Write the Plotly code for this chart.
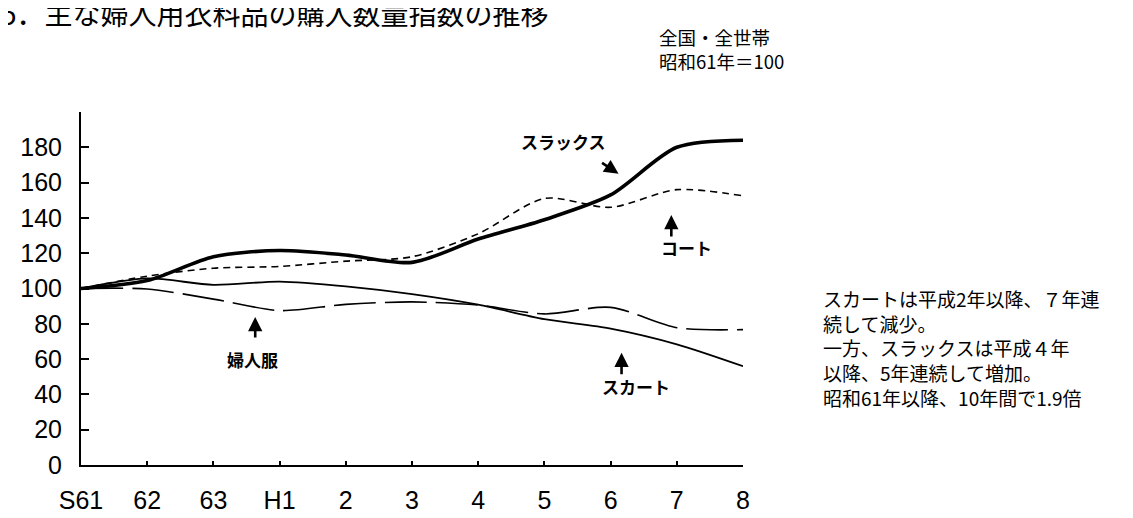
import plotly.graph_objects as go

# ---- data ----
years = ["S61", "62", "63", "H1", "2", "3", "4", "5", "6", "7", "8"]
slacks = [100, 104.5, 118, 121.5, 119, 114.8, 128, 139, 153, 180, 184]
coat = [100, 107, 111.5, 112.5, 115.5, 118, 131, 151, 146, 156, 152.5]
skirt = [100, 105.7, 102.1, 103.9, 101.2, 96.8, 90.8, 82.6, 77.3, 68.4, 56]
womens = [100, 99.7, 94, 87.5, 91, 92.4, 90.6, 85.6, 89.3, 77.8, 76.7]
y_ticks = [0, 20, 40, 60, 80, 100, 120, 140, 160, 180, 200]
y_ticktext = ["0", "20", "40", "60", "80", "100", "120", "140", "160", "180", ""]

W, H = 1133, 518
L, R, T, B = 70, 735, 104, 481  # plot area in pixels


def px(x):
    return (x - L) / (R - L)


def py(y):
    return (B - y) / (B - T)


xs = list(range(len(years)))
fig = go.Figure()
fig.add_trace(go.Scatter(x=xs, y=womens, mode="lines", name="婦人服",
                         line=dict(color="black", width=1.6, dash="42px,9px", shape="spline", smoothing=0.8),
                         cliponaxis=False))
fig.add_trace(go.Scatter(x=xs, y=skirt, mode="lines", name="スカート",
                         line=dict(color="black", width=1.8, shape="spline", smoothing=0.8),
                         cliponaxis=False))
fig.add_trace(go.Scatter(x=xs, y=coat, mode="lines", name="コート",
                         line=dict(color="black", width=1.6, dash="7px,5px", shape="spline", smoothing=0.8),
                         cliponaxis=False))
fig.add_trace(go.Scatter(x=xs, y=slacks, mode="lines", name="スラックス",
                         line=dict(color="black", width=3.6, shape="spline", smoothing=0.8),
                         cliponaxis=False))

jp = "Noto Sans CJK JP"
ann = []
# title (partly cut at the top in the reference)
ann.append(dict(x=px(-12), y=py(-2), xref="paper", yref="paper", xanchor="left", yanchor="middle",
                text="5．主な婦人用衣料品の購入数量指数の推移", showarrow=False,
                font=dict(family=jp, size=28, color="black")))
# header note
header = ["全国・全世帯", "昭和61年＝100"]
ann.append(dict(x=px(649), y=py(37), xref="paper", yref="paper", xanchor="left", yanchor="middle",
                align="left", text="<br>".join(header), showarrow=False,
                font=dict(family=jp, size=18.5, color="black")))
# right comment block
comment = ["スカートは平成2年以降、７年連", "続して減少。", "一方、スラックスは平成４年",
           "以降、5年連続して増加。", "昭和61年以降、10年間で1.9倍"]
ann.append(dict(x=px(813), y=py(356), xref="paper", yref="paper", xanchor="left", yanchor="middle",
                align="left", text="<br>".join(comment), showarrow=False,
                font=dict(family=jp, size=19, color="black")))
# series labels
for txt, lx, ly in [("スラックス", 555, 135), ("コート", 678, 249), ("婦人服", 242, 368), ("スカート", 628, 397)]:
    ann.append(dict(x=px(lx), y=py(ly), xref="paper", yref="paper", xanchor="center", yanchor="middle",
                    text="<b>" + txt + "</b>", showarrow=False, font=dict(family=jp, size=17, color="black")))
# arrows (head, tail)
for hx, hy, tx, ty in [(610, 170, 592, 158), (663, 214, 663, 237), (245, 323, 245, 345), (613, 361, 613, 384)]:
    ann.append(dict(x=px(hx), y=py(hy), xref="paper", yref="paper", text="", showarrow=True,
                    ax=tx - hx, ay=ty - hy, arrowhead=2, arrowsize=1.1, arrowwidth=2.6, arrowcolor="black"))

fig.update_layout(
    width=W, height=H,
    margin=dict(l=L, r=W - R, t=T, b=H - B, pad=0),
    paper_bgcolor="white", plot_bgcolor="white",
    showlegend=False,
    annotations=ann,
    xaxis=dict(range=[0, len(years) - 1], tickvals=xs, ticktext=years, ticks="inside", ticklen=4,
               tickwidth=1.5, tickcolor="black", showline=True, linewidth=2, linecolor="black",
               showgrid=False, zeroline=False, ticklabelstandoff=12,
               tickfont=dict(family="Liberation Sans", size=25, color="black")),
    yaxis=dict(range=[0, 200], tickvals=y_ticks, ticktext=y_ticktext, ticks="inside", ticklen=8,
               tickwidth=2, tickcolor="black", showline=True, linewidth=2, linecolor="black",
               showgrid=False, zeroline=False, ticklabelstandoff=12,
               tickfont=dict(family="Liberation Sans", size=25, color="black")),
)

fig.write_html("out.html")
